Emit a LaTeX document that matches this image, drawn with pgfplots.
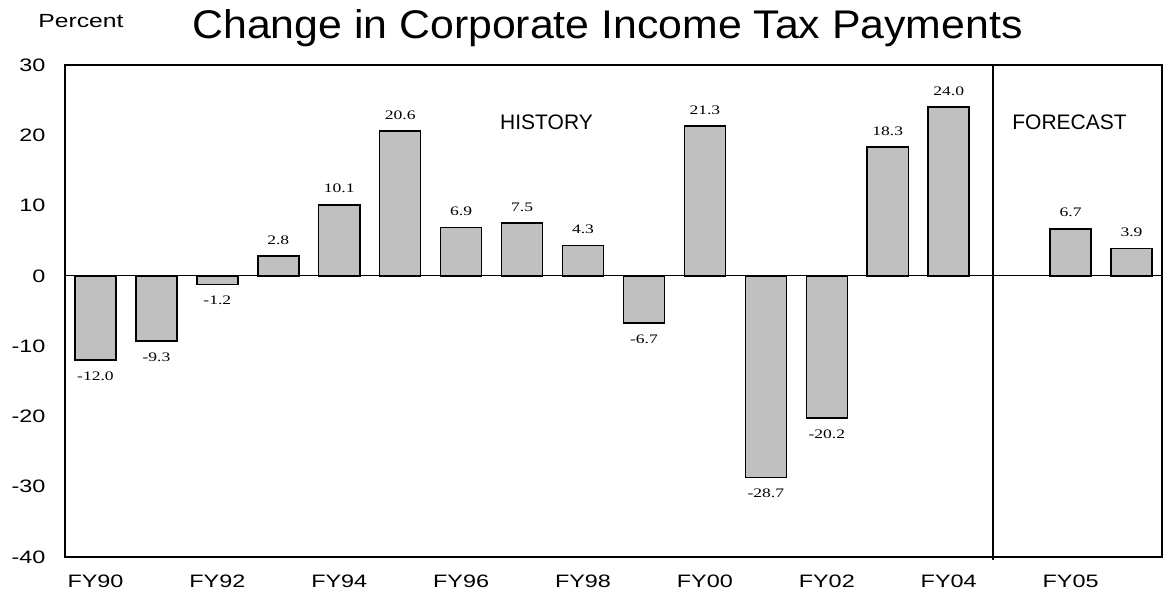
\documentclass[border=0pt]{standalone}
\usepackage{fontspec}
\setmainfont{Liberation Sans}[FakeStretch=1.3]
\newfontfamily\titlef{Liberation Sans}[FakeStretch=1.07]
\newfontfamily\plainf{Liberation Sans}
\newfontfamily\serifl{Liberation Serif}[FakeStretch=1.35]
\usepackage{pgfplots}
\pgfplotsset{compat=1.18}
\definecolor{barfill}{RGB}{192,192,192}
\begin{document}
\begin{tikzpicture}
\useasboundingbox (-65pt,-39pt) rectangle (1099pt,557pt);
\begin{axis}[
  at={(0,0)}, anchor=south west,
  scale only axis, width=1097pt, height=492pt,
  xmin=-0.5, xmax=17.5, ymin=-40, ymax=30,
  ytick={-40,-30,...,30},
  xtick={0,2,...,16},
  xticklabels={FY90,FY92,FY94,FY96,FY98,FY00,FY02,FY04,FY05},
  major tick length=0pt,
  axis line style={line width=1.5pt},
  tick label style={font=\fontsize{18}{20}\selectfont},
  /pgf/number format/assume math mode=true,
  yticklabel style={xshift=-16pt},
  xticklabel style={yshift=-14pt},
  ybar, bar width=41pt, bar shift=0pt,
  clip=false,
  nodes near coords={\pgfmathprintnumber[fixed,fixed zerofill,precision=1,assume math mode=true]{\pgfplotspointmeta}},
  nodes near coords align=vertical,
  every node near coord/.append style={font=\serifl\fontsize{13}{14}\selectfont, inner ysep=11pt, black},
]
\addplot[draw=black, line width=1.5pt, fill=barfill] coordinates {
  (0,-12.0) (1,-9.3) (2,-1.2) (3,2.8) (4,10.1) (5,20.6) (6,6.9) (7,7.5)
  (8,4.3) (9,-6.7) (10,21.3) (11,-28.7) (12,-20.2) (13,18.3) (14,24.0)
  (16,6.7) (17,3.9)
};
\draw[line width=1pt] (axis cs:-0.5,0) -- (axis cs:17.5,0);
\draw[line width=1.5pt] (axis cs:14.73,30) -- (axis cs:14.73,-40.4);
\end{axis}
\node[font=\titlef\fontsize{40}{44}\selectfont, inner sep=0pt, anchor=base] at (542.5pt,518pt) {Change in Corporate Income Tax Payments};
\node[font=\fontsize{19}{21}\selectfont, inner sep=0pt, anchor=base] at (16pt,529pt) {Percent};
\node[font=\plainf\fontsize{21}{23}\selectfont, inner sep=0pt, anchor=base] at (481.5pt,427pt) {HISTORY};
\node[font=\plainf\fontsize{21}{23}\selectfont, inner sep=0pt, anchor=base] at (1004.5pt,427pt) {FORECAST};
\end{tikzpicture}
\end{document}
